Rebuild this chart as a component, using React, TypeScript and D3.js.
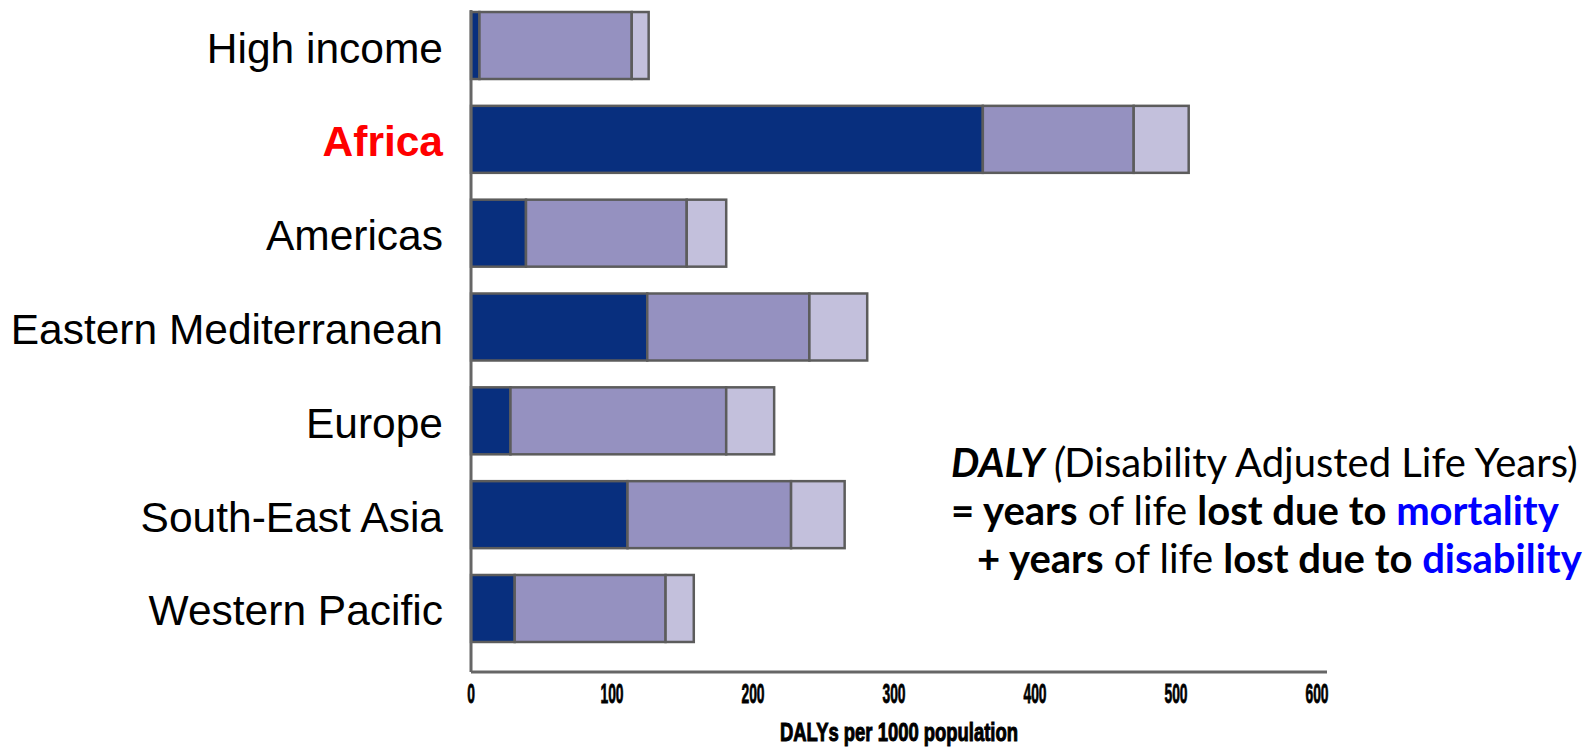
import * as d3 from "d3";

// DALYs per 1000 population, by region and cause group
const categories = [
  "High income",
  "Africa",
  "Americas",
  "Eastern Mediterranean",
  "Europe",
  "South-East Asia",
  "Western Pacific",
];
const communicable = [6, 363, 39, 125, 28, 111, 31];
const noncommunicable = [108, 107, 114, 115, 153, 116, 107];
const injuries = [12, 39, 28, 41, 34, 38, 20];

const segmentKeys = ["communicable", "noncommunicable", "injuries"];
const segmentColors = ["#082f7e", "#9591c0", "#c3c0dc"];
const xTicks = [0, 100, 200, 300, 400, 500, 600];
const highlighted = "Africa";

const W = 1590;
const H = 749;

export default function App() {
  const rows = categories.map((c, i) => ({
    category: c,
    communicable: communicable[i],
    noncommunicable: noncommunicable[i],
    injuries: injuries[i],
  }));
  const series = d3.stack<any>().keys(segmentKeys)(rows);

  const x = d3.scaleLinear().domain([0, 600]).range([471, 1317]);
  const y = d3
    .scaleBand()
    .domain(categories)
    .range([-1.4, 655.4])
    .paddingInner(0.286)
    .paddingOuter(0.143);
  const axisY = 672;

  return (
    <svg
      width={W}
      height={H}
      style={{ position: "absolute", left: 0, top: 0, background: "#fff" }}
    >
      {/* bars */}
      {series.map((s, si) => (
        <g key={s.key} fill={segmentColors[si]}>
          {s.map((d) => (
            <rect
              key={d.data.category}
              x={x(d[0])}
              y={y(d.data.category)}
              width={x(d[1]) - x(d[0])}
              height={y.bandwidth()}
              stroke="#5c5c5c"
              strokeWidth={2.5}
            />
          ))}
        </g>
      ))}

      {/* axes */}
      <line x1={x(0)} x2={x(0)} y1={10} y2={axisY} stroke="#666" strokeWidth={3} />
      <line x1={x(0)} x2={1327} y1={axisY} y2={axisY} stroke="#666" strokeWidth={3} />

      {/* category labels */}
      {categories.map((c) => (
        <text
          key={c}
          x={443}
          y={(y(c) as number) + y.bandwidth() / 2 + 17}
          textAnchor="end"
          fontFamily="'Liberation Sans', Arial, sans-serif"
          fontSize={42.5}
          fontWeight={c === highlighted ? "bold" : "normal"}
          fill={c === highlighted ? "#ff0000" : "#000"}
        >
          {c}
        </text>
      ))}

      {/* x tick labels */}
      {xTicks.map((t) => (
        <text
          key={t}
          x={x(t)}
          y={703}
          textAnchor="middle"
          fontFamily="'Liberation Sans', Arial, sans-serif"
          fontWeight="bold"
          fontSize={27}
          stroke="#000"
          strokeWidth={0.8}
          textLength={String(t).length * 7.7}
          lengthAdjust="spacingAndGlyphs"
        >
          {t}
        </text>
      ))}
      <text
        x={899}
        y={741}
        textAnchor="middle"
        fontFamily="'Liberation Sans', Arial, sans-serif"
        fontWeight="bold"
        fontSize={25}
        stroke="#000"
        strokeWidth={1}
        textLength={238}
        lengthAdjust="spacingAndGlyphs"
      >
        DALYs per 1000 population
      </text>

      {/* definition */}
      <g fontFamily="Lato, 'Open Sans', sans-serif" fontSize={40} fill="#000">
        <text x={951} y={477}>
          <tspan fontWeight="bold" fontStyle="italic">DALY</tspan>
          <tspan fontStyle="italic"> (</tspan>
          <tspan>Disability Adjusted Life Years)</tspan>
        </text>
        <text x={951} y={525}>
          <tspan fontWeight="bold">= years</tspan>
          <tspan> of life </tspan>
          <tspan fontWeight="bold">lost due to </tspan>
          <tspan fontWeight="bold" fill="#0000ff">mortality</tspan>
        </text>
        <text x={977} y={573}>
          <tspan fontWeight="bold">+ years</tspan>
          <tspan> of life </tspan>
          <tspan fontWeight="bold">lost due to </tspan>
          <tspan fontWeight="bold" fill="#0000ff">disability</tspan>
        </text>
      </g>
    </svg>
  );
}
